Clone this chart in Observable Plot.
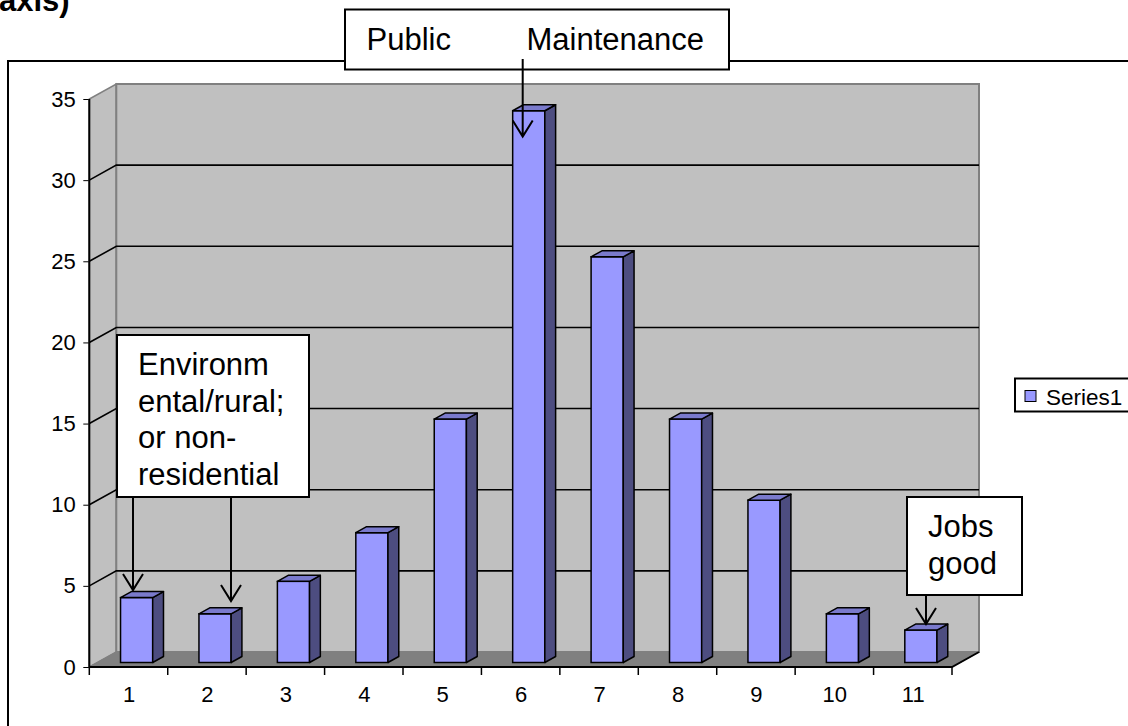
<!DOCTYPE html>
<html><head><meta charset="utf-8">
<script src="https://cdn.jsdelivr.net/npm/d3@7"></script>
<script src="https://cdn.jsdelivr.net/npm/@observablehq/plot@0.6"></script>
<style>
html,body{margin:0;padding:0;background:#fff;overflow:hidden}
#chart svg{display:block}
</style>
</head><body><div id="chart"></div>
<script>
// ---- data ----
const categories = [1, 2, 3, 4, 5, 6, 7, 8, 9, 10, 11];
const values = [4, 3, 5, 8, 15, 34, 25, 15, 10, 3, 2];
const yTicks = [0, 5, 10, 15, 20, 25, 30, 35];
const seriesName = "Series1";
const titleText = "axis)";
const notePublic = ["Public", "Maintenance"];
const noteEnv = ["Environm", "ental/rural;", "or non-", "residential"];
const noteJobs = ["Jobs", "good"];

// ---- styling / geometry constants ----
const DX = 27, DY = -15;          // depth of the 3D box (px)
const BAR_HALF = 0.205;           // half bar width in category units
const BAR_FRONT = 0.3, BAR_BACK = 0.7;
const FRONT = "#9999ff", SIDE = "#4d4d80", TOP = "#7a7acc";
const WALL = "#c0c0c0", FLOOR = "#808080", EDGE = "#808080";
const FONT = "'Liberation Sans', Arial, sans-serif";

const data = categories.map((c, i) => ({cat: c, value: values[i]}));
const pts = a => a.map(p => p.join(",")).join(" ");

function backdrop(index, {x, y}) {
  const g = d3.create("svg:g");
  g.append("rect").attr("x", 8).attr("y", 61).attr("width", 1300).attr("height", 900)
    .attr("fill", "none").attr("stroke", "#000").attr("stroke-width", 2);
  const x0 = x(categories[0] - 0.5), x1 = x(categories[categories.length - 1] + 0.5);
  const y0 = y(0), yT = y(d3.max(yTicks));
  g.append("polygon").attr("points", pts([[x0, y0], [x0 + DX, y0 + DY], [x0 + DX, yT + DY], [x0, yT]]))
    .attr("fill", WALL).attr("stroke", EDGE).attr("stroke-width", 1.5);
  g.append("rect").attr("x", x0 + DX).attr("y", yT + DY).attr("width", x1 - x0).attr("height", y0 - yT)
    .attr("fill", WALL).attr("stroke", EDGE).attr("stroke-width", 2);
  for (const t of yTicks) {
    if (t === 0 || t === d3.max(yTicks)) continue;
    g.append("path").attr("d", `M${x0},${y(t)}L${x0 + DX},${y(t) + DY}L${x1 + DX},${y(t) + DY}`)
      .attr("fill", "none").attr("stroke", "#000").attr("stroke-width", 1.6);
  }
  g.append("polygon").attr("points", pts([[x0, y0], [x1, y0], [x1 + DX, y0 + DY], [x0 + DX, y0 + DY]]))
    .attr("fill", FLOOR).attr("stroke", EDGE).attr("stroke-width", 1);
  g.append("path").attr("d", `M${x0},${yT}L${x0},${y0}L${x1},${y0}L${x1 + DX},${y0 + DY}`)
    .attr("fill", "none").attr("stroke", "#000").attr("stroke-width", 2);
  for (let k = 0; k <= categories.length; k++) {
    const xv = x(categories[0] - 0.5 + k);
    g.append("line").attr("x1", xv).attr("x2", xv).attr("y1", y0).attr("y2", y0 + 8)
      .attr("stroke", "#000").attr("stroke-width", 1.5);
  }
  return g.node();
}

function barFaces(index, {x, y}) {
  const g = d3.create("svg:g").attr("stroke", "#000").attr("stroke-width", 1.5).attr("stroke-linejoin", "round");
  const ox = DX * BAR_FRONT, oy = DY * BAR_FRONT;
  const bx = DX * (BAR_BACK - BAR_FRONT), by = DY * (BAR_BACK - BAR_FRONT);
  for (const d of data) {
    const xl = x(d.cat - BAR_HALF) + ox, xr = x(d.cat + BAR_HALF) + ox;
    const yb = y(0) + oy, yt = y(d.value) + oy;
    g.append("polygon").attr("points", pts([[xr, yb], [xr, yt], [xr + bx, yt + by], [xr + bx, yb + by]])).attr("fill", SIDE);
    g.append("polygon").attr("points", pts([[xl, yt], [xr, yt], [xr + bx, yt + by], [xl + bx, yt + by]])).attr("fill", TOP);
  }
  return g.node();
}

function arrow(g, xa, ya, yb) {
  g.append("path").attr("d", `M${xa},${ya}L${xa},${yb}M${xa - 10},${yb - 16}L${xa},${yb}L${xa + 10},${yb - 16}`)
    .attr("fill", "none").attr("stroke", "#000").attr("stroke-width", 2);
}
function box(g, x, y, w, h) {
  g.append("rect").attr("x", x).attr("y", y).attr("width", w).attr("height", h)
    .attr("fill", "#fff").attr("stroke", "#000").attr("stroke-width", 2);
}
function label(g, t, x, y, size, bold) {
  return g.append("text").attr("x", x).attr("y", y).attr("text-anchor", "start").attr("fill", "#000")
    .style("font-size", size + "px").style("font-family", FONT)
    .style("font-weight", bold ? "bold" : "normal").text(t);
}
function lines(g, arr, x, y0, lh, size) {
  arr.forEach((t, i) => label(g, t, x, y0 + i * lh, size));
}

function annotations() {
  const g = d3.create("svg:g");
  label(g, titleText, -1, 11, 31, true);
  box(g, 345, 9.5, 384, 60);
  label(g, notePublic[0], 366.5, 50, 31);
  label(g, notePublic[1], 526.5, 50, 31);
  arrow(g, 522.7, 59, 136.5);
  arrow(g, 133, 497, 590);
  arrow(g, 231, 497, 601);
  box(g, 117, 335, 192, 162);
  lines(g, noteEnv, 138, 375, 36.7, 31);
  arrow(g, 926, 595, 624);
  box(g, 907, 497, 115, 98);
  lines(g, noteJobs, 928, 537, 36.5, 31);
  box(g, 1015, 378.5, 200, 33);
  g.append("rect").attr("x", 1025).attr("y", 390.5).attr("width", 11).attr("height", 11)
    .attr("fill", FRONT).attr("stroke", "#000").attr("stroke-width", 1);
  label(g, seriesName, 1046, 404.5, 22.5);
  return g.node();
}

const chart = Plot.plot({
  width: 1128,
  height: 726,
  marginLeft: 89.3,
  marginRight: 176,
  marginTop: 99,
  marginBottom: 59,
  style: {fontFamily: FONT, fontSize: "22px", background: "#fff", color: "#000", overflow: "hidden"},
  x: {type: "linear", domain: [categories[0] - 0.5, categories[categories.length - 1] + 0.5],
      ticks: categories, tickSize: 0, tickPadding: 19, tickFormat: d => String(d), label: null},
  y: {type: "linear", domain: [0, d3.max(yTicks)], ticks: yTicks, tickSize: 6, tickPadding: 8,
      tickFormat: d => String(d), label: null},
  marks: [
    backdrop,
    Plot.rect(data, {
      x1: d => d.cat - BAR_HALF, x2: d => d.cat + BAR_HALF, y1: 0, y2: "value",
      dx: DX * BAR_FRONT, dy: DY * BAR_FRONT,
      fill: FRONT, stroke: "#000", strokeWidth: 1.5
    }),
    barFaces,
    annotations
  ]
});
// axis tick labels: force the larger size inline (annotation texts already carry inline sizes)
d3.select(chart).selectAll("text").filter(function () { return !this.style.fontSize; })
  .style("font-size", "22px").style("font-family", FONT);
document.getElementById("chart").appendChild(chart);
</script>
</body></html>
